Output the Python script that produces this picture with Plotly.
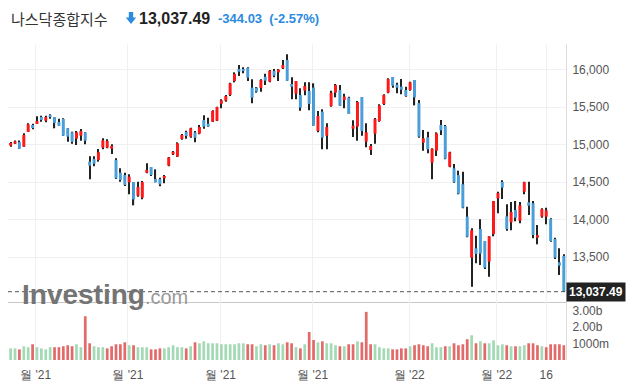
import plotly.graph_objects as go

# ---- data ----
opens = [14985, 15011, 15033, 14971, 15167, 15260, 15273, 15367, 15318, 15392,
         15367, 15300, 15340, 15216, 15162, 15078, 15118, 15162, 14771, 14807,
         14793, 14958, 14958, 14945, 14793, 14624, 14593, 14496, 14500, 14318,
         14291, 14625, 14700, 14540, 14540, 14549, 14718, 14869, 14838, 15073,
         15167, 15104, 15162, 15144, 15327, 15278, 15304, 15318, 15544, 15584,
         15660, 15847, 16007, 16005, 16020, 15758, 15758, 15753, 15904, 15838,
         15980, 15962, 16016, 16127, 15807, 15678, 15660, 15718, 15713, 15758,
         15180, 15438, 15118, 15513, 15691, 15727, 15593, 15624, 15211, 15238,
         15633, 15038, 14927, 15144, 15313, 15540, 15691, 15900, 15798, 15771,
         15727, 15727, 15860, 15553, 15024, 15096, 14758, 14918, 15260, 15247,
         14704, 14682, 14593, 14469, 14038, 13491, 13616, 13873, 13713, 13438,
         13807, 14282, 14500, 14042, 13962, 14127, 13984, 14371, 14229, 14216,
         13758, 14038, 14038, 14007, 13740, 13429, 13514]
highs = [15033, 15055, 15055, 15149, 15282, 15278, 15376, 15384, 15384, 15403,
         15367, 15344, 15349, 15216, 15171, 15180, 15207, 15162, 14842, 14842,
         14940, 15082, 15069, 15002, 14816, 14682, 14624, 14602, 14500, 14505,
         14513, 14749, 14700, 14669, 14558, 14593, 14833, 14913, 15029, 15140,
         15184, 15224, 15180, 15260, 15389, 15358, 15456, 15504, 15602, 15660,
         15824, 15962, 16060, 16029, 16029, 15869, 15767, 15869, 15944, 15993,
         16007, 16007, 16127, 16202, 15896, 15847, 15749, 15829, 15829, 15816,
         15447, 15469, 15282, 15718, 15807, 15793, 15678, 15638, 15322, 15580,
         15633, 15282, 15007, 15353, 15536, 15669, 15882, 15900, 15824, 15873,
         15771, 15838, 15860, 15593, 15193, 15171, 14949, 15162, 15327, 15260,
         14904, 14740, 14651, 14638, 14171, 13882, 13785, 14002, 13713, 13776,
         14247, 14371, 14522, 14202, 14233, 14247, 14233, 14505, 14505, 14247,
         13927, 14149, 14158, 14016, 13758, 13616, 13536]
lows = [14971, 15007, 14945, 14971, 15167, 15202, 15273, 15304, 15296, 15344,
        15216, 15247, 15118, 15038, 15011, 14993, 15051, 15002, 14536, 14709,
        14771, 14936, 14949, 14873, 14540, 14505, 14447, 14336, 14189, 14304,
        14269, 14616, 14580, 14496, 14442, 14482, 14709, 14860, 14833, 15064,
        15078, 15091, 15029, 15136, 15211, 15238, 15300, 15313, 15482, 15571,
        15647, 15829, 15913, 15949, 15847, 15549, 15691, 15705, 15793, 15829,
        15896, 15847, 16007, 15851, 15602, 15602, 15451, 15656, 15456, 15251,
        15162, 14936, 14936, 15504, 15629, 15518, 15482, 15407, 15100, 15051,
        15118, 14962, 14860, 15011, 15304, 15527, 15682, 15758, 15682, 15669,
        15638, 15718, 15522, 15091, 14918, 14882, 14536, 14847, 15127, 14802,
        14696, 14491, 14336, 14149, 13762, 13105, 13416, 13394, 13340, 13238,
        13776, 14082, 14273, 13851, 13856, 13976, 13949, 14336, 14060, 13749,
        13669, 14024, 13936, 13705, 13474, 13260, 13037.49]
closes = [15020, 15042, 14945, 15127, 15269, 15220, 15313, 15327, 15367, 15372,
          15287, 15247, 15118, 15105, 15033, 15162, 15180, 15051, 14718, 14744,
          14896, 15056, 15047, 14980, 14549, 14527, 14460, 14571, 14269, 14434,
          14500, 14660, 14593, 14496, 14469, 14580, 14829, 14904, 15016, 15127,
          15113, 15216, 15091, 15233, 15238, 15240, 15447, 15500, 15589, 15647,
          15816, 15940, 15971, 15980, 15891, 15624, 15705, 15860, 15851, 15984,
          15918, 15998, 16060, 15851, 15771, 15847, 15491, 15780, 15540, 15251,
          15380, 15091, 15233, 15691, 15793, 15518, 15638, 15407, 15251, 15567,
          15180, 15162, 14980, 15340, 15522, 15660, 15873, 15784, 15758, 15731,
          15647, 15829, 15629, 15104, 15082, 14936, 14943, 15149, 15189, 14811,
          14896, 14500, 14345, 14158, 13771, 13856, 13540, 13545, 13358, 13776,
          14247, 14353, 14425, 13873, 14100, 14024, 14189, 14500, 14185, 13793,
          13790, 14140, 14122, 13713, 13491, 13385, 13037.49]
volumes_b = [0.71, 0.71, 0.65, 0.84, 0.78, 0.96, 0.78, 0.71, 0.65, 0.78,
             0.78, 0.78, 0.84, 0.90, 0.84, 0.96, 0.78, 2.67, 1.02, 0.84,
             0.78, 0.78, 0.71, 0.84, 0.96, 0.96, 1.08, 0.90, 0.90, 0.78,
             0.78, 0.78, 0.65, 0.65, 0.71, 0.71, 0.78, 0.90, 0.78, 0.78,
             0.71, 0.84, 1.08, 1.02, 1.14, 1.02, 1.02, 1.02, 0.96, 0.96,
             0.96, 0.96, 1.02, 1.02, 0.96, 0.96, 0.84, 0.96, 0.90, 0.96,
             0.90, 1.02, 0.96, 1.08, 1.02, 0.78, 0.71, 0.96, 1.71, 1.22,
             1.08, 1.14, 1.02, 1.02, 0.90, 0.84, 0.84, 0.96, 0.96, 1.14,
             1.08, 2.94, 0.96, 0.96, 0.78, 0.71, 0.71, 0.65, 0.65, 0.71,
             0.71, 0.84, 0.90, 0.96, 0.90, 0.84, 1.02, 0.78, 0.78, 0.84,
             0.84, 1.02, 0.90, 0.96, 1.27, 1.51, 1.02, 1.14, 1.02, 1.02,
             1.20, 0.90, 0.96, 0.90, 0.84, 0.84, 0.84, 0.90, 1.02, 1.02,
             0.90, 0.84, 0.78, 0.96, 0.96, 0.96, 0.90]
# month-start trading-day positions and their (as displayed) labels
tick_pos = [5.7, 26.7, 47.8, 68.8, 90.8, 110.7, 122.0]
tick_labels = ["월 '21", "월 '21", "월 '21", "월 '21", "월 '22", "월 '22", "16"]
price_ticks = [13500, 14000, 14500, 15000, 15500, 16000]
vol_ticks = [1, 2, 3]
vol_tick_labels = ["1000m", "2.00b", "3.00b"]
title_name = "나스닥종합지수"
last_change = "-344.03"
last_pct = "(-2.57%)"

# ---- geometry ----
W, H = 634, 386
ML, MR, MT, MB = 8, 68, 44, 26
PW = W - ML - MR
PH = H - MT - MB


def px(x):
    return (x - ML) / PW


def py(y):
    return (H - MB - y) / PH


sep = py(302)

UP = "#ff1a1a"
DOWN = "#4a9fdb"
WICK = "#222222"
VUP = "#a3d9b5"
VDOWN = "#e36a6a"

n = len(closes)
idx = list(range(n))
body_base = [min(o, c) for o, c in zip(opens, closes)]
body_h = [max(abs(c - o), 9) for o, c in zip(opens, closes)]
body_col = [UP if c >= o else DOWN for o, c in zip(opens, closes)]
wick_h = [h - l for h, l in zip(highs, lows)]
vcol = []
for i in range(n):
    prev = closes[i - 1] if i > 0 else opens[0]
    vcol.append(VUP if closes[i] > prev else VDOWN)

fig = go.Figure()
fig.add_trace(go.Bar(x=idx, y=wick_h, base=lows, width=0.26,
                     marker=dict(color=WICK, line=dict(width=0)),
                     xaxis="x", yaxis="y", showlegend=False, hoverinfo="skip"))
fig.add_trace(go.Bar(x=idx, y=body_h, base=body_base, width=0.68,
                     marker=dict(color=body_col, line=dict(width=0)),
                     xaxis="x", yaxis="y", showlegend=False))
fig.add_trace(go.Bar(x=idx, y=volumes_b, width=0.62,
                     marker=dict(color=vcol, line=dict(width=0)),
                     xaxis="x2", yaxis="y2", showlegend=False))

GRID = "#f0f0f0"
AX = "#dcdcdc"
TICKF = dict(family="Liberation Sans, Arial", size=12, color="#555555")
xr = [-0.6, n - 0.5]

fig.update_layout(
    width=W, height=H,
    margin=dict(l=ML, r=MR, t=MT, b=MB),
    paper_bgcolor="white", plot_bgcolor="white",
    barmode="overlay",
    showlegend=False,
    font=dict(family="Liberation Sans, Arial", color="#555555"),
    xaxis=dict(domain=[0, 1], range=xr, anchor="y", tickvals=tick_pos,
               showticklabels=False, showgrid=True, gridcolor=GRID,
               zeroline=False, showline=True, linecolor="#c8c8c8", ticks="",
               automargin=False),
    yaxis=dict(domain=[sep, 1], range=[12900, 16340], side="right",
               tickvals=price_ticks, ticktext=[f"{v:,}" for v in price_ticks],
               tickfont=TICKF, showgrid=True, gridcolor=GRID, zeroline=False,
               showline=True, linecolor=AX, ticks="outside", ticklen=3,
               tickcolor="rgba(0,0,0,0)", automargin=False),
    xaxis2=dict(domain=[0, 1], range=xr, anchor="y2", matches="x",
                tickvals=tick_pos, ticktext=tick_labels, tickfont=TICKF,
                showgrid=True, gridcolor=GRID, zeroline=False, showline=False,
                ticks="outside", ticklen=4, tickcolor="rgba(0,0,0,0)",
                automargin=False),
    yaxis2=dict(domain=[0, sep], range=[0, 3.54], side="right",
                tickvals=vol_ticks, ticktext=vol_tick_labels, tickfont=TICKF,
                showgrid=False, zeroline=False, showline=True, linecolor=AX,
                ticks="outside", ticklen=3, tickcolor="rgba(0,0,0,0)",
                automargin=False),
)

# last price dashed line and label
fig.add_shape(type="line", xref="paper", yref="y", x0=0, x1=1,
              y0=closes[-1], y1=closes[-1],
              line=dict(color="#555555", width=1, dash="4px,3px"))
fig.add_annotation(xref="paper", yref="y", x=1, y=closes[-1], xanchor="left",
                   yanchor="middle", text=f"<b>{closes[-1]:,.2f}</b>",
                   showarrow=False, bgcolor="#222222", borderpad=2,
                   font=dict(family="Liberation Sans, Arial", size=12, color="white"))

# watermark
fig.add_annotation(xref="paper", yref="paper", x=px(20), y=py(294),
                   xanchor="left", yanchor="middle", showarrow=False,
                   text="<b>Investing</b><span style='font-size:20px;color:#9a9a9a'>.com</span>",
                   font=dict(family="Liberation Sans, Arial", size=28, color="#747474"))

# title line
fig.add_annotation(xref="paper", yref="paper", x=px(9), y=py(18),
                   xanchor="left", yanchor="middle", showarrow=False,
                   text=title_name,
                   font=dict(family="Noto Sans CJK KR", size=15, color="#333333"))
fig.add_annotation(xref="paper", yref="paper", x=px(137), y=py(18),
                   xanchor="left", yanchor="middle", showarrow=False,
                   text=f"<b>{closes[-1]:,.2f}</b>",
                   font=dict(family="Liberation Sans, Arial", size=16, color="#222222"))
fig.add_annotation(xref="paper", yref="paper", x=px(216), y=py(18),
                   xanchor="left", yanchor="middle", showarrow=False,
                   text=f"<b>{last_change}  {last_pct}</b>",
                   font=dict(family="Liberation Sans, Arial", size=13, color="#2a8be0"))
# down-arrow icon
ax0, ay = 131, 18
pts = [(ax0 - 2.2, ay - 6), (ax0 + 2.2, ay - 6), (ax0 + 2.2, ay - 0.5),
       (ax0 + 5.2, ay - 0.5), (ax0, ay + 6), (ax0 - 5.2, ay - 0.5),
       (ax0 - 2.2, ay - 0.5)]
path = "M " + " L ".join(f"{px(x):.5f},{py(y):.5f}" for x, y in pts) + " Z"
fig.add_shape(type="path", xref="paper", yref="paper", path=path,
              fillcolor="#2a8be0", line=dict(width=0))

fig.write_html("out.html", config={"displayModeBar": False},
               post_script="document.body.style.margin='0px';document.body.style.overflow='hidden';")
